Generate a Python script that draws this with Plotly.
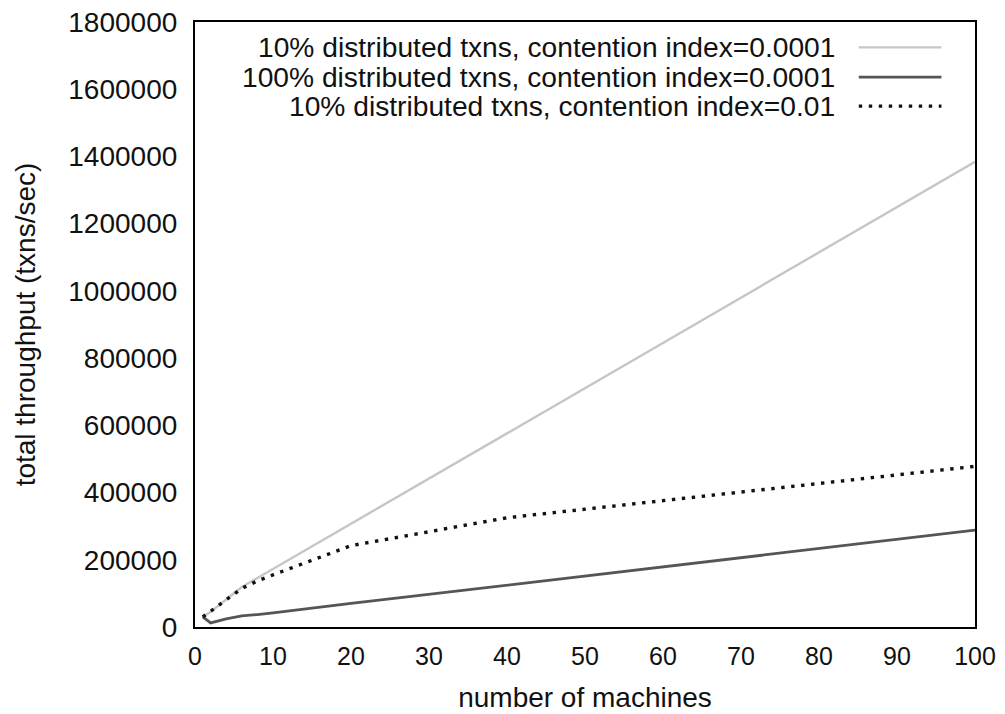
import plotly.graph_objects as go

machines = [1, 2, 4, 6, 8, 10, 20, 40, 100]
light_10pct_low = [30000, 45000, 82000, 119000, 146000, 173000, 307000, 576000, 1384000]
dark_100pct_low = [30000, 12000, 24000, 33000, 37000, 42000, 70000, 125000, 288000]
dotted_10pct_high = [30000, 47000, 82000, 115000, 137000, 155000, 242000, 325000, 478000]

names = [
    "10% distributed txns, contention index=0.0001",
    "100% distributed txns, contention index=0.0001",
    "10% distributed txns, contention index=0.01",
]
x_ticks = list(range(0, 101, 10))
y_ticks = list(range(0, 1800001, 200000))

FONT = "Liberation Sans, Arial, sans-serif"
styles = [
    dict(color="#c6c6c6", width=2.4, dash="solid"),
    dict(color="#555555", width=2.8, dash="solid"),
    dict(color="#111111", width=3.4, dash="3.4px,6.6px"),
]
series = [light_10pct_low, dark_100pct_low, dotted_10pct_high]

fig = go.Figure()
for name, ys, st in zip(names, series, styles):
    fig.add_trace(go.Scatter(x=machines, y=ys, mode="lines", name=name,
                             line=st, showlegend=False))

# legend drawn manually (text right-aligned, sample to the right)
leg_y = [0.958, 0.909, 0.861]
for name, st, yy in zip(names, styles, leg_y):
    fig.add_annotation(x=0.823, y=yy, xref="paper", yref="paper", text=name,
                       showarrow=False, xanchor="right", yanchor="middle",
                       font=dict(family=FONT, size=28.2, color="#111"))
    fig.add_shape(type="line", xref="paper", yref="paper",
                  x0=0.851, x1=0.957, y0=yy, y1=yy,
                  line=dict(color=st["color"], width=st["width"], dash=st["dash"]))

# page body has an 8px default margin, so the figure is shifted accordingly
fig.update_layout(
    width=997, height=706,
    margin=dict(l=187, r=30, t=14, b=87),
    paper_bgcolor="white", plot_bgcolor="white",
    font=dict(family=FONT, size=25, color="#111"),
    showlegend=False,
)
fig.update_xaxes(range=[0, 100], tickvals=x_ticks, ticks="", showgrid=False,
                 zeroline=False, showline=True, linecolor="black", linewidth=2.2,
                 mirror=True, automargin=False, ticklabelstandoff=6,
                 ticklabeloverflow="allow",
                 title=dict(text="number of machines", standoff=18, font=dict(size=28)),
                 tickfont=dict(size=25))
fig.update_yaxes(range=[0, 1800000], tickvals=y_ticks, ticks="", showgrid=False,
                 zeroline=False, showline=True, linecolor="black", linewidth=2.2,
                 mirror=True, automargin=False, ticklabelstandoff=10,
                 ticklabeloverflow="allow",
                 title=dict(text="total throughput (txns/sec)", standoff=24, font=dict(size=28)),
                 tickfont=dict(size=28), tickformat="d")

fig.write_html("out.html")
